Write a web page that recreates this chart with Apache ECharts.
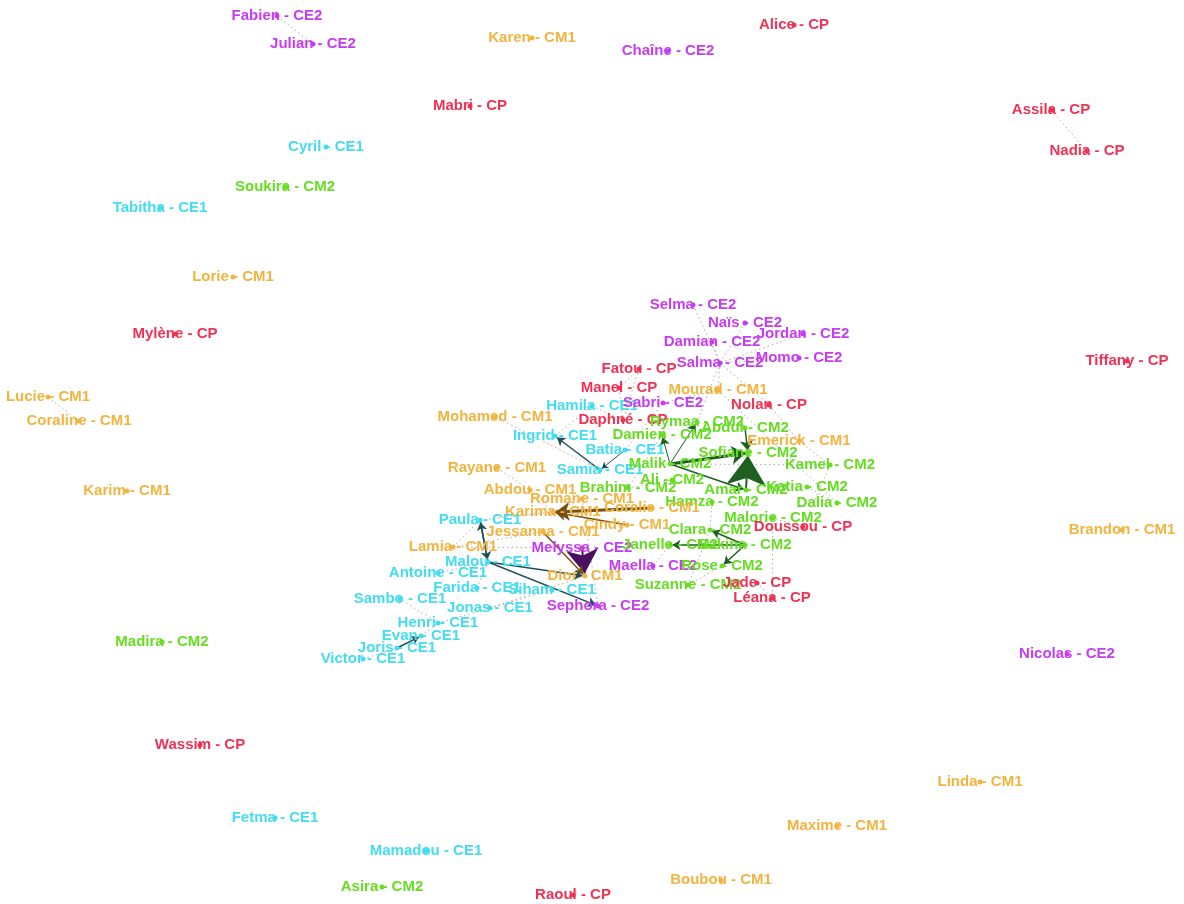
<!DOCTYPE html>
<html>
<head>
<meta charset="utf-8">
<script src="https://cdn.jsdelivr.net/npm/echarts@6/dist/echarts.min.js"></script>
<style>html,body{margin:0;padding:0;background:#fff}#c{width:1184px;height:904px}</style>
</head>
<body>
<div id="c"></div>
<script>
// Sociogram: pupils (name - class) at their layout positions
const names = [
 "Fabien","Julian","Karen","Chaîne","Alice","Mabri","Assila","Nadia","Cyril","Soukira",
 "Tabitha","Lorie","Mylène","Lucie","Coraline","Karim","Madira","Wassim","Fetma","Mamadou",
 "Asira","Raoul","Boubou","Maxime","Linda","Nicolas","Brandon","Tiffany",
 "Selma","Naïs","Jordan","Damian","Salma","Momo","Fatou","Manel","Mourad","Hamila",
 "Sabri","Nolan","Mohamed","Daphné","Rymaa","Abdul","Emerick","Ingrid","Damien","Batia",
 "Sofiane","Samia","Malik","Kamel","Rayane","Ali","Amar","Katia","Abdou","Brahim",
 "Romane","Hamza","Dalia","Karima","Coralie","Paula","Malorie","Doussou","Jessanna","Cindy",
 "Clara","Lamia","Melyssa","Janelle","Sakina","Malou","Antoine","Maella","Rose","Dior",
 "Farida","Siham","Suzanne","Jade","Sambo","Léana","Jonas","Sephora","Henri","Evan",
 "Joris","Victor"
];
const classes = [
 "CE2","CE2","CM1","CE2","CP","CP","CP","CP","CE1","CM2",
 "CE1","CM1","CP","CM1","CM1","CM1","CM2","CP","CE1","CE1",
 "CM2","CP","CM1","CM1","CM1","CE2","CM1","CP",
 "CE2","CE2","CE2","CE2","CE2","CE2","CP","CP","CM1","CE1",
 "CE2","CP","CM1","CP","CM2","CM2","CM1","CE1","CM2","CE1",
 "CM2","CE1","CM2","CM2","CM1","CM2","CM2","CM2","CM1","CM2",
 "CM1","CM2","CM2","CM1","CM1","CE1","CM2","CP","CM1","CM1",
 "CM2","CM1","CE2","CM2","CM2","CE1","CE1","CE2","CM2","CM1",
 "CE1","CE1","CM2","CP","CE1","CP","CE1","CE2","CE1","CE1",
 "CE1","CE1"
];
const posX = [
 277,313,532,668,794,470,1051,1087,326,285,
 160,233,175,48,79,127,162,200,275,426,
 382,573,721,837,980,1067,1122,1127,
 693,745,803,712,720,799,639,619,718,592,
 663,769,495,623,697,745,799,555,662,625,
 748,600,670,830,497,672,746,807,530,628,
 582,712,837,553,652,480,773,803,543,627,
 710,453,582,670,745,488,438,653,722,585,
 477,552,688,757,400,772,490,598,438,421,
 397,363
];
const posY = [
 16,44,38,51,25,106,110,151,147,187,
 208,277,334,397,421,491,642,745,818,851,
 887,895,880,826,782,654,530,361,
 305,323,334,342,363,358,369,388,390,406,
 403,405,417,420,422,428,441,436,435,450,
 453,470,464,465,468,480,490,487,490,488,
 499,502,503,512,508,520,518,527,532,525,
 530,547,548,545,545,562,573,566,566,576,
 588,590,585,583,599,598,608,606,623,636,
 648,659
];
const classNames = ["CP","CE1","CE2","CM1","CM2"];
const classColors = ["#ee3355","#44dcf0","#c63cf0","#f2b440","#66dd22"];
const darkColors = ["#7a1020","#1d4f5a","#4a1060","#7a5010","#1f5f1f"];

// strong (chosen) links: [source, target, arrow size, line width]
const strongLinks = [
 ["Malik","Sofiane",14,3],["Amar","Sofiane",30,2],["Abdul","Sofiane",10,1.5],
 ["Malik","Amar",8,1.5],["Malik","Rymaa",8,1],["Malik","Damien",8,1],
 ["Samia","Ingrid",8,1.5],["Coralie","Karima",14,3],["Cindy","Karima",10,1.5],
 ["Melyssa","Dior",24,2],["Jessanna","Dior",8,1.5],["Malou","Paula",8,1.5],
 ["Paula","Malou",8,1.5],["Malou","Dior",8,1.5],["Malou","Sephora",8,1.5],
 ["Sakina","Clara",8,1.5],["Sakina","Rose",8,1.5],["Sakina","Janelle",8,1.5],
 ["Joris","Evan",7,1.5],["Batia","Samia",6,1]
];
// weak (dotted) links
const weakLinks = [
 ["Fabien","Julian"],["Assila","Nadia"],["Lucie","Coraline"],["Selma","Salma"],["Naïs","Salma"],
 ["Damian","Salma"],["Jordan","Salma"],["Momo","Salma"],["Salma","Nolan"],["Salma","Mourad"],
 ["Fatou","Manel"],["Manel","Daphné"],["Hamila","Daphné"],["Sabri","Mourad"],["Mohamed","Samia"],
 ["Rayane","Abdou"],["Abdou","Karima"],["Romane","Karima"],["Henri","Sambo"],["Victor","Joris"],
 ["Jonas","Siham"],["Farida","Malou"],["Antoine","Malou"],["Emerick","Kamel"],["Katia","Dalia"],
 ["Doussou","Malorie"],["Jade","Léana"],["Suzanne","Rose"],["Maella","Janelle"],["Hamza","Clara"],
 ["Brahim","Ali"],["Dior","Jonas"],["Lamia","Melyssa"],["Malik","Kamel"],["Nolan","Emerick"],
 ["Mourad","Dalia"],["Henri","Jonas"],["Evan","Henri"],["Lamia","Paula"],["Karima","Paula"],
 ["Fatou","Daphné"],["Sabri","Batia"],["Malorie","Léana"],["Clara","Suzanne"],["Romane","Sephora"],
 ["Jessanna","Lamia"],["Ingrid","Hamila"],["Kamel","Doussou"],["Salma","Rymaa"],["Damien","Brahim"]
];

const colorOf = n => classColors[classNames.indexOf(classes[names.indexOf(n)])];
const darkOf = n => darkColors[classNames.indexOf(classes[names.indexOf(n)])];
const full = n => n + " - " + classes[names.indexOf(n)];

const nodes = names.map((n,i) => ({
  name: full(n),
  value: [posX[i], posY[i]],
  itemStyle: { color: classColors[classNames.indexOf(classes[i])] },
  label: { color: classColors[classNames.indexOf(classes[i])] }
}));

const links = [];
weakLinks.forEach(([s,t]) => links.push({
  source: full(s), target: full(t),
  symbol: ['none','none'],
  lineStyle: { color: '#8a8a8a', width: 0.8, type: [1.5,3], opacity: 0.9 }
}));
strongLinks.forEach(([s,t,a,w]) => links.push({
  source: full(s), target: full(t),
  symbol: ['none','arrow'], symbolSize: [1,a],
  lineStyle: { color: darkOf(s), width: w, type: 'solid', opacity: 1 }
}));

const chart = echarts.init(document.getElementById('c'));
chart.setOption({
  backgroundColor: '#ffffff',
  animation: false,
  grid: { left: 0, right: 0, top: 0, bottom: 0 },
  xAxis: { type: 'value', min: 0, max: 1184, show: false },
  yAxis: { type: 'value', min: 0, max: 904, inverse: true, show: false },
  series: [{
    type: 'graph',
    coordinateSystem: 'cartesian2d',
    layout: 'none',
    symbol: 'circle',
    symbolSize: 5,
    data: nodes,
    links: links,
    label: {
      show: true, position: 'inside',
      fontFamily: 'Liberation Sans, Arial, sans-serif',
      fontWeight: 'bold', fontSize: 15,
      formatter: p => p.name
    },
    labelLayout: { hideOverlap: false },
    emphasis: { disabled: true },
    z: 2
  }]
});
</script>
</body>
</html>
